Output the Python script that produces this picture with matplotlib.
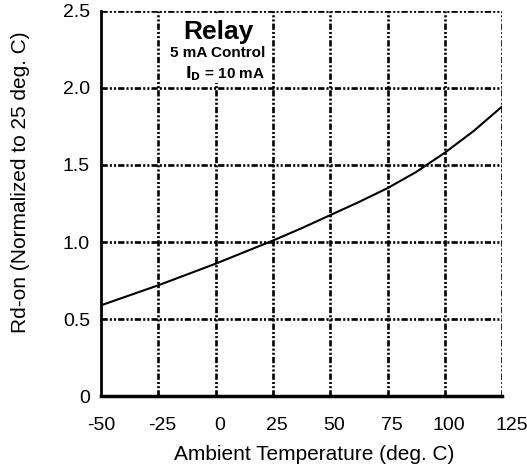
import matplotlib
matplotlib.use('Agg')
import matplotlib.pyplot as plt
import matplotlib.transforms as mtransforms
from matplotlib.patches import Rectangle

plt.rcParams['font.family'] = ['Liberation Sans', 'DejaVu Sans']
plt.rcParams['lines.scale_dashes'] = False
plt.rcParams['axes.unicode_minus'] = False

# curve
temp = [-50, -37.5, -25, -12.5, 0, 12.5, 25, 37.5, 50, 62.5, 75, 87.5, 100, 112.5, 125]
rdon = [0.59, 0.655, 0.72, 0.79, 0.86, 0.935, 1.01, 1.09, 1.175, 1.26, 1.35, 1.455, 1.58, 1.72, 1.88]

xticks = [-50, -25, 0, 25, 50, 75, 100, 125]
yticks = [0, 0.5, 1.0, 1.5, 2.0, 2.5]
ylabels = ['0', '0.5', '1.0', '1.5', '2.0', '2.5']

fig = plt.figure(figsize=(5.27, 4.7), dpi=100)
ax = fig.add_axes([0.192, 0.157, 0.761, 0.820])

dash = (0, (4.5, 1.5, 1.5, 1.5, 1.5, 1.5))
for x in xticks[1:]:
    ax.axvline(x, color='black', lw=1.9, ls=dash, zorder=1)
for y in yticks[1:]:
    ax.axhline(y, color='black', lw=1.9, ls=dash, zorder=1)

ax.plot(temp, rdon, color='black', lw=1.5, zorder=3)

ax.set_xlim(-50, 125)
ax.set_ylim(0, 2.5)
ax.set_xticks(xticks)
ax.set_yticks(yticks)
ax.set_yticklabels(ylabels)
ax.tick_params(length=0, labelsize=14)
ax.tick_params(axis='x', pad=15)
ax.tick_params(axis='y', pad=8)
for s in ['top', 'right']:
    ax.spines[s].set_visible(False)
ax.spines['left'].set_linewidth(2)
ax.spines['bottom'].set_linewidth(2.5)

# labels in the original sit a bit to the right
for i, lab in enumerate(ax.get_xticklabels()):
    dx = 10 if i == len(xticks) - 1 else (0 if i == 0 else 4)
    lab.set_transform(lab.get_transform() + mtransforms.ScaledTranslation(dx / 100, 0, fig.dpi_scale_trans))

ax.set_xlabel('Ambient Temperature (deg. C)', fontsize=15)
ax.set_ylabel('Rd-on (Normalized to 25 deg. C)', fontsize=15)
ax.xaxis.set_label_coords(0.53, -0.127)
ax.yaxis.set_label_coords(-0.178, 0.555)

# white box behind the annotation hides the 0 deg gridline
ax.add_patch(Rectangle((-23.5, 2.03), 47, 0.44, facecolor='white', edgecolor='none', zorder=2))
ax.text(1, 2.36, 'Relay', fontsize=19, fontweight='bold', ha='center', va='center', zorder=4)
ax.text(1, 2.225, '5 mA Control', fontsize=11, fontweight='bold', ha='center', va='center', zorder=4)
ax.text(21.5, 2.095, r'$\mathbf{I_D}$ = 10 mA', fontsize=11, fontweight='bold', ha='right', va='center', zorder=4)

fig.savefig('out.png', dpi=100)
